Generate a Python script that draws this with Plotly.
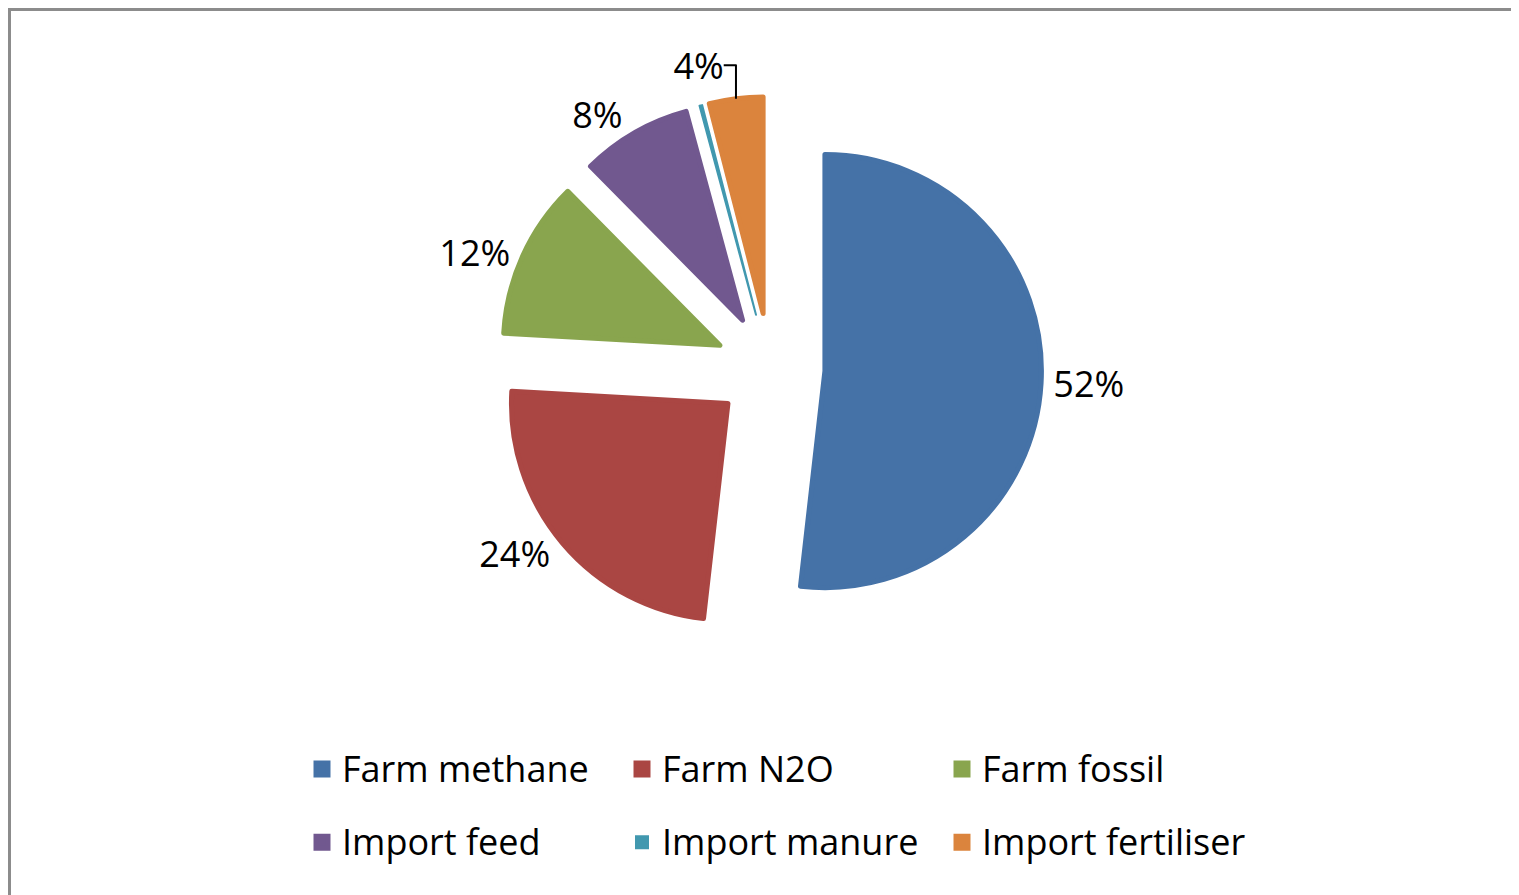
import plotly.graph_objects as go

# emission sources, shares (%)
labels = ['Farm methane', 'Farm N2O', 'Farm fossil', 'Import feed', 'Import manure', 'Import fertiliser']
values = [51.8, 24.1, 11.7, 8.2, 0.2, 4.0]
colors = ['#4572A7', '#AA4643', '#89A54E', '#71588F', '#4198AF', '#DB843D']
# manure slice rounds to 0% and has no label on the original
show_label = [True, True, True, True, False, True]

# page body has an 8px margin, so the figure is drawn 8px in from the corner
W, H = 1511, 887
# right margin keeps the plot area narrow enough for 3 legend entries per row
MR = 300
PW = W - MR
# slices get an outline in their own colour (it also enlarges the legend squares);
# the tiny manure slice only gets a thin one so it stays a hairline
edge = 5
edges = [edge if s else 2 for s in show_label]
cx, cy, r = 762, 360, 219 - edge / 2
pull = 55 / r
box = 2 * r * (1 + pull)

# legend rows are spaced wider than plotly's line height for 36px text,
# so the legend font is bigger and each entry is shrunk back to 36px
legend_names = ['<span style="font-size:36px;baseline-shift:8px">%s</span>' % s for s in labels]

fig = go.Figure(go.Pie(
    labels=legend_names,
    values=values,
    sort=False,
    direction='clockwise',
    rotation=0,
    pull=[pull] * len(values),
    marker=dict(colors=colors, line=dict(color=colors, width=edges)),
    texttemplate=['%{percent:.0%}' if s else '' for s in show_label],
    textposition=['outside' if s else 'none' for s in show_label],
    textfont=dict(size=36, color='black'),
    domain=dict(x=[(cx - box / 2) / PW, (cx + box / 2) / PW],
                y=[1 - (cy + box / 2) / H, 1 - (cy - box / 2) / H]),
    hoverinfo='percent',
))

# chart frame like the Excel chart area
fig.add_shape(type='rect', xref='paper', yref='paper',
              x0=1.5 / PW, x1=1.4, y0=-0.05, y1=1 - 1.5 / H,
              fillcolor='white', line=dict(color='#8c8c8c', width=3), layer='below')

fig.update_layout(
    width=W, height=H,
    margin=dict(l=0, r=MR, t=0, b=0, autoexpand=False),
    paper_bgcolor='white',
    font=dict(family='Open Sans', size=36, color='black'),
    showlegend=True,
    legend=dict(
        orientation='h',
        x=294 / PW, xanchor='left',
        y=0.189, yanchor='top',
        entrywidth=275,
        font=dict(size=54),
        bgcolor='rgba(0,0,0,0)',
    ),
)

fig.write_html("out.html")
